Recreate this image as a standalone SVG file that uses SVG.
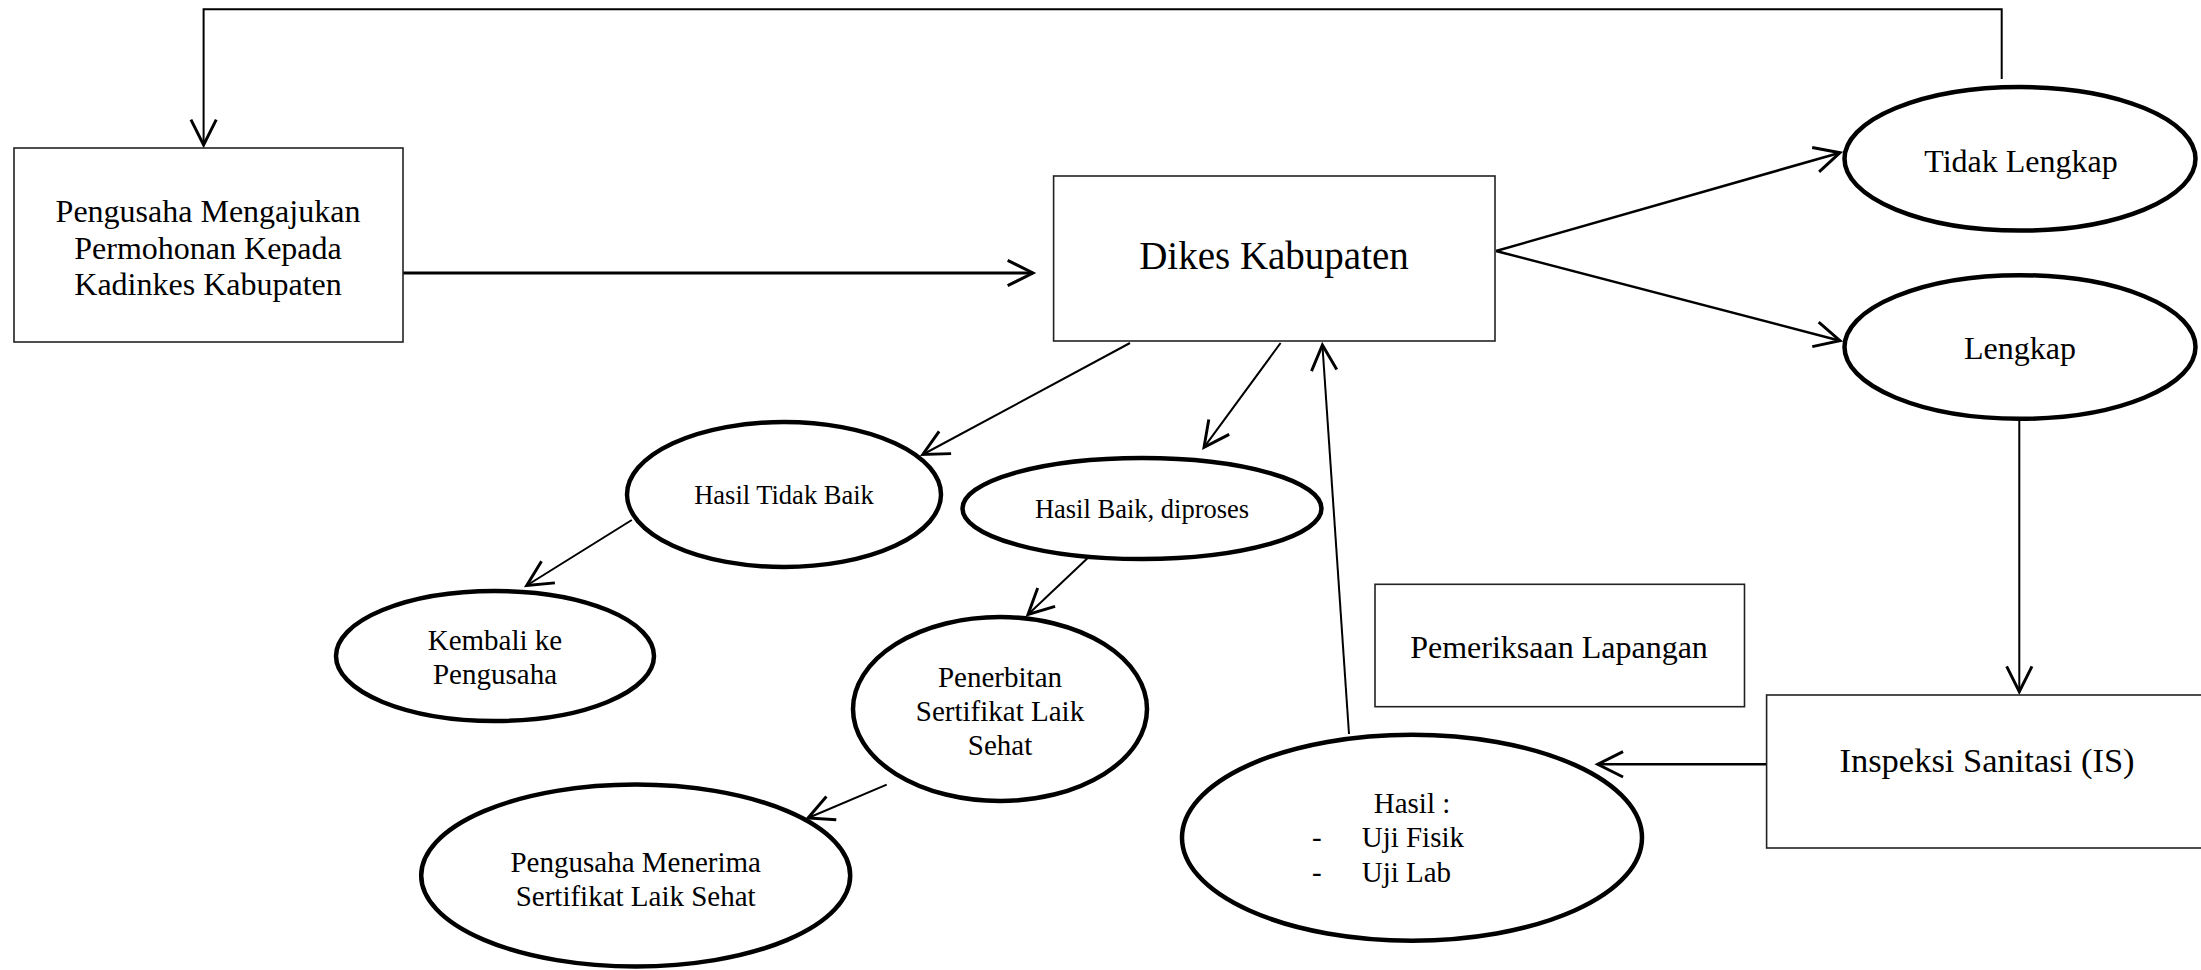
<svg xmlns="http://www.w3.org/2000/svg" width="2201" height="970" viewBox="0 0 2201 970">
<style>
.box{fill:#fff;stroke:#222;stroke-width:1.6}
.ell{fill:#fff;stroke:#000;stroke-width:4.5}
.c{fill:none;stroke:#000;stroke-width:2}
.mid{text-anchor:middle}
</style>
<defs>
<marker id="arr" markerUnits="userSpaceOnUse" markerWidth="40" markerHeight="40" viewBox="-25 -15 30 30" refX="0" refY="0" orient="auto" overflow="visible">
<path d="M-19,-9.5 L0,0 L-19,9.5" fill="none" stroke="#000" stroke-width="2.2"/>
</marker>
</defs>
<g id="connectors">
<path class="c" d="M2001.7,79 V9.3 H203.6 V145" marker-end="url(#arr)"/>
<line class="c" style="stroke-width:3" x1="403" y1="273" x2="1033" y2="273" marker-end="url(#arr)"/>
<line class="c" style="stroke-width:2.5" x1="1496" y1="251" x2="1840" y2="152.7" marker-end="url(#arr)"/>
<line class="c" style="stroke-width:2.5" x1="1496" y1="251" x2="1840" y2="340.7" marker-end="url(#arr)"/>
<line class="c" x1="2019.3" y1="421" x2="2019.3" y2="691.7" marker-end="url(#arr)"/>
<line class="c" style="stroke-width:2.5" x1="1766.6" y1="764.3" x2="1597.7" y2="764.3" marker-end="url(#arr)"/>
<line class="c" x1="1349" y1="734" x2="1322.4" y2="345" marker-end="url(#arr)"/>
<line class="c" x1="1130" y1="343" x2="922.8" y2="454.5" marker-end="url(#arr)"/>
<line class="c" x1="1280.6" y1="343" x2="1204" y2="447.3" marker-end="url(#arr)"/>
<line class="c" x1="631.8" y1="520" x2="526.7" y2="585.5" marker-end="url(#arr)"/>
<line class="c" x1="1093.3" y1="552.7" x2="1028" y2="614.5" marker-end="url(#arr)"/>
<line class="c" x1="886.7" y1="784.7" x2="808" y2="818" marker-end="url(#arr)"/>
</g>
<g font-family="Liberation Serif, Times New Roman, DejaVu Serif, serif" fill="#000">
<g id="pengusaha">
<rect class="box" x="14" y="148" width="389" height="194"/>
<text class="mid" font-size="32" x="208"><tspan x="208" y="222">Pengusaha Mengajukan</tspan><tspan x="208" y="258.5">Permohonan Kepada</tspan><tspan x="208" y="295">Kadinkes Kabupaten</tspan></text>
</g>
<g id="dikes">
<rect class="box" x="1053.6" y="176" width="441.4" height="165"/>
<text class="mid" font-size="39" x="1274" y="269">Dikes Kabupaten</text>
</g>
<g id="tidak-lengkap">
<ellipse class="ell" cx="2020" cy="158.8" rx="175.5" ry="71.8"/>
<text class="mid" font-size="32" x="2021" y="171.7">Tidak Lengkap</text>
</g>
<g id="lengkap">
<ellipse class="ell" cx="2020" cy="347" rx="175.5" ry="71.8"/>
<text class="mid" font-size="32" x="2020" y="359">Lengkap</text>
</g>
<g id="inspeksi">
<rect class="box" x="1766.6" y="695" width="450" height="153"/>
<text class="mid" font-size="34.5" x="1987" y="771.7">Inspeksi Sanitasi (IS)</text>
</g>
<g id="pemeriksaan">
<rect class="box" x="1375" y="584.3" width="369.5" height="122.4"/>
<text class="mid" font-size="32" x="1559" y="658.3">Pemeriksaan Lapangan</text>
</g>
<g id="hasil">
<ellipse class="ell" cx="1412" cy="837.7" rx="230" ry="103"/>
<text font-size="29"><tspan class="mid" x="1412" y="813.3">Hasil :</tspan><tspan x="1312" y="846.7">-</tspan><tspan x="1361.7" y="846.7">Uji Fisik</tspan><tspan x="1312" y="881.7">-</tspan><tspan x="1361.7" y="881.7">Uji Lab</tspan></text>
</g>
<g id="hasil-tidak-baik">
<ellipse class="ell" cx="784" cy="494.5" rx="157" ry="72.5"/>
<text class="mid" font-size="26.5" x="784" y="503.6">Hasil Tidak Baik</text>
</g>
<g id="hasil-baik">
<ellipse class="ell" cx="1142" cy="508.5" rx="179.5" ry="50.5"/>
<text class="mid" font-size="26.5" x="1142" y="518.3">Hasil Baik, diproses</text>
</g>
<g id="kembali">
<ellipse class="ell" cx="495" cy="656" rx="159" ry="65"/>
<text class="mid" font-size="29"><tspan x="495" y="650">Kembali ke</tspan><tspan x="495" y="683.6">Pengusaha</tspan></text>
</g>
<g id="penerbitan">
<ellipse class="ell" cx="1000" cy="709" rx="147" ry="92"/>
<text class="mid" font-size="29"><tspan x="1000" y="687.3">Penerbitan</tspan><tspan x="1000" y="720.5">Sertifikat Laik</tspan><tspan x="1000" y="754.5">Sehat</tspan></text>
</g>
<g id="pengusaha-menerima">
<ellipse class="ell" cx="635.7" cy="875.5" rx="214.5" ry="91"/>
<text class="mid" font-size="29"><tspan x="635.7" y="872">Pengusaha Menerima</tspan><tspan x="635.7" y="905.5">Sertifikat Laik Sehat</tspan></text>
</g>
</g>
</svg>
